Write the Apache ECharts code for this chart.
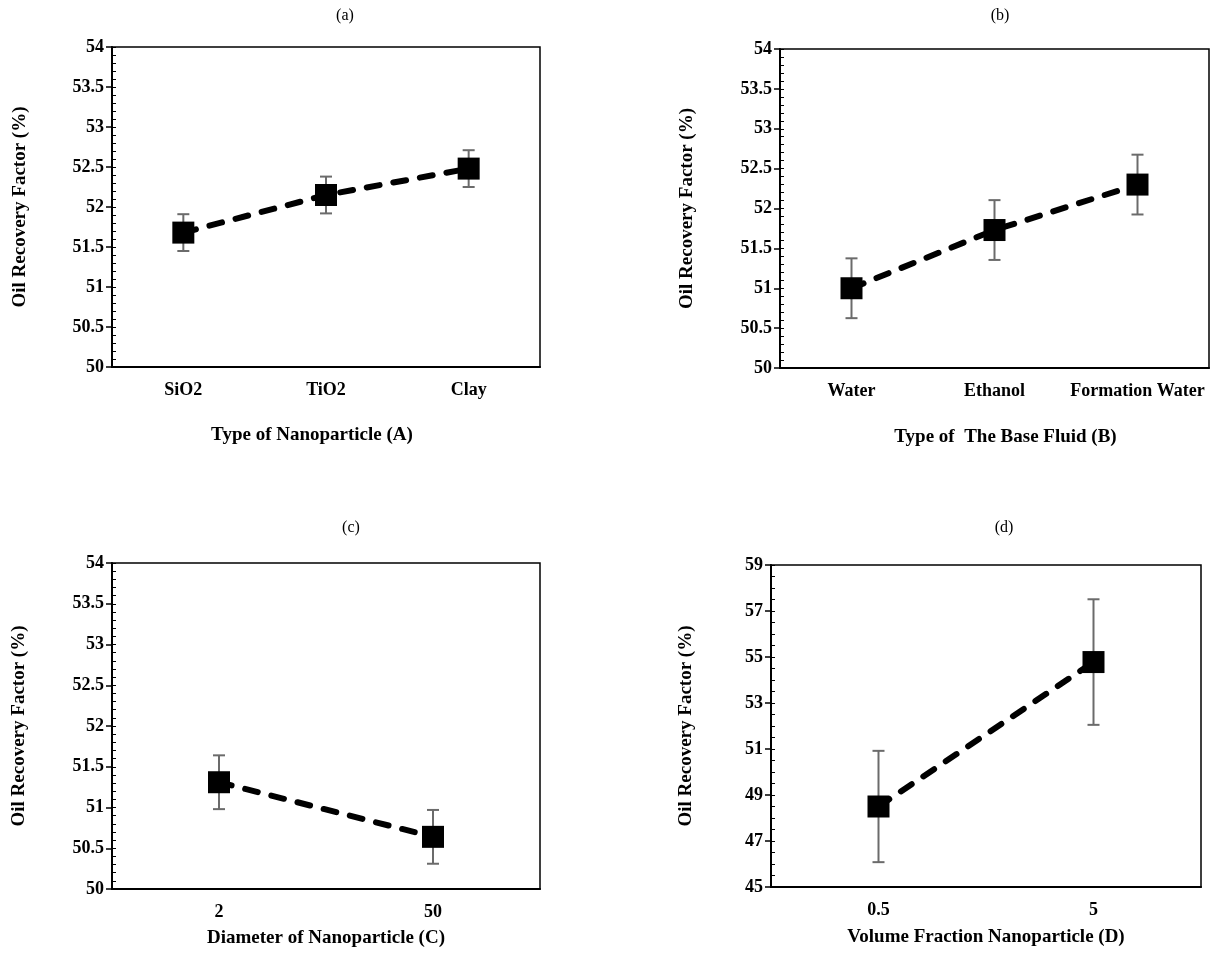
<!DOCTYPE html>
<html>
<head>
<meta charset="utf-8">
<title>Oil Recovery Factor</title>
<script src="https://cdn.jsdelivr.net/npm/echarts@6/dist/echarts.min.js"></script>
<style>
  html, body { margin: 0; padding: 0; background: #fff; }
  #main { width: 1211px; height: 958px; }
</style>
</head>
<body>
<div id="main"></div>
<script>
// 四个小图的数据
var catsA = ['SiO2', 'TiO2', 'Clay']
var valsA = [51.68, 52.15, 52.48]
var errA = [0.23, 0.23, 0.23]

var catsB = ['Water', 'Ethanol', 'Formation Water']
var valsB = [51.0, 51.73, 52.3]
var errB = [0.375, 0.375, 0.375]

var catsC = ['2', '50']
var valsC = [51.31, 50.64]
var errC = [0.33, 0.33]

var catsD = ['0.5', '5']
var valsD = [48.5, 54.78]
var errD = [2.42, 2.73]

// y 轴刻度
var yTicksABC = [50, 50.5, 51, 51.5, 52, 52.5, 53, 53.5, 54]
var yTicksD = [45, 47, 49, 51, 53, 55, 57, 59]

var font = "'Liberation Serif', 'Times New Roman', serif"

var grids = [
    {left: 112, top: 47, width: 428, height: 320},
    {left: 780, top: 49, width: 429, height: 319},
    {left: 112, top: 563, width: 428, height: 326},
    {left: 771, top: 565, width: 430, height: 322}
]

var panels = [
    {cats: catsA, vals: valsA, err: errA, ticks: yTicksABC, minor: 0.1,
     xName: 'Type of Nanoparticle (A)', xGap: 59, xPad: [0, 28, 0, 0], yGap: 82, title: '(a)', tx: 345, ty: 16},
    {cats: catsB, vals: valsB, err: errB, ticks: yTicksABC, minor: 0.1,
     xName: 'Type of  The Base Fluid (B)', xGap: 60, xPad: [0, 0, 0, 22], yGap: 83, title: '(b)', tx: 1000, ty: 16},
    {cats: catsC, vals: valsC, err: errC, ticks: yTicksABC, minor: 0.1,
     xName: 'Diameter of Nanoparticle (C)', xGap: 40, xPad: 0, yGap: 83, title: '(c)', tx: 351, ty: 528},
    {cats: catsD, vals: valsD, err: errD, ticks: yTicksD, minor: 0.5,
     xName: 'Volume Fraction Nanoparticle (D)', xGap: 41, xPad: 0, yGap: 75, title: '(d)', tx: 1004, ty: 528}
]

// 误差棒
var renderError = function(params, api) {
    var x = api.value(0)
    var top = api.coord([x, api.value(2)])
    var bot = api.coord([x, api.value(1)])
    var half = 6
    var style = {stroke: '#6b6b6b', lineWidth: 2}
    return {
        type: 'group',
        children: [
            {type: 'line', shape: {x1: top[0], y1: top[1], x2: bot[0], y2: bot[1]}, style: style},
            {type: 'line', shape: {x1: top[0] - half, y1: top[1], x2: top[0] + half, y2: top[1]}, style: style},
            {type: 'line', shape: {x1: bot[0] - half, y1: bot[1], x2: bot[0] + half, y2: bot[1]}, style: style}
        ]
    }
}

var grid = []
var xAxis = []
var yAxis = []
var series = []
var graphic = []

for (var i = 0; i < panels.length; i++) {
    var p = panels[i]
    var min = p.ticks[0]
    var max = p.ticks[p.ticks.length - 1]
    grid.push({
        left: grids[i].left, top: grids[i].top, width: grids[i].width, height: grids[i].height,
        show: true, borderColor: '#000', borderWidth: 1.5
    })
    xAxis.push({
        type: 'category', gridIndex: i, data: p.cats, boundaryGap: true,
        name: p.xName, nameLocation: 'middle', nameGap: p.xGap,
        nameTextStyle: {fontFamily: font, fontWeight: 'bold', fontSize: 19, color: '#000', padding: p.xPad},
        axisLine: {lineStyle: {color: '#000', width: 2}},
        axisTick: {alignWithLabel: true, length: 6, lineStyle: {color: '#000', width: 1.5}},
        axisLabel: {fontFamily: font, fontWeight: 'bold', fontSize: 18, color: '#000', margin: 14,
                    interval: 0, hideOverlap: false},
        splitLine: {show: false}
    })
    // 主刻度 + 标签
    yAxis.push({
        type: 'value', gridIndex: i, min: min, max: max, interval: p.minor * 5,
        name: 'Oil Recovery Factor (%)', nameLocation: 'middle', nameGap: p.yGap,
        nameTextStyle: {fontFamily: font, fontWeight: 'bold', fontSize: 19, color: '#000'},
        axisLine: {show: true, lineStyle: {color: '#000', width: 2}},
        axisTick: {show: true, length: 6, customValues: p.ticks, lineStyle: {color: '#000', width: 1.5}},
        axisLabel: {fontFamily: font, fontWeight: 'bold', fontSize: 18, color: '#000', margin: 8, customValues: p.ticks},
        splitLine: {show: false}
    })
    // 次刻度，朝内
    yAxis.push({
        type: 'value', gridIndex: i, min: min, max: max, interval: p.minor, position: 'left',
        axisLine: {show: false},
        axisTick: {show: true, inside: true, length: 4, lineStyle: {color: '#000', width: 1}},
        axisLabel: {show: false},
        splitLine: {show: false}
    })

    var errData = []
    for (var j = 0; j < p.vals.length; j++) {
        errData.push([j, p.vals[j] - p.err[j], p.vals[j] + p.err[j]])
    }
    series.push({
        type: 'custom', xAxisIndex: i, yAxisIndex: i * 2, data: errData,
        renderItem: renderError, encode: {x: 0, y: [1, 2]}, z: 2, silent: true
    })
    series.push({
        type: 'line', xAxisIndex: i, yAxisIndex: i * 2, data: p.vals,
        symbol: 'rect', symbolSize: 22, z: 3,
        itemStyle: {color: '#000'},
        lineStyle: {color: '#000', width: 6, type: [13, 14], cap: 'round'},
        animation: false
    })
    graphic.push({
        type: 'text', x: p.tx, y: p.ty,
        style: {text: p.title, font: '16px ' + font, fill: '#000', align: 'center', verticalAlign: 'middle'}
    })
}

var myChart = echarts.init(document.getElementById('main'))
myChart.setOption({
    animation: false,
    grid: grid,
    xAxis: xAxis,
    yAxis: yAxis,
    series: series,
    graphic: graphic
})
</script>
</body>
</html>
